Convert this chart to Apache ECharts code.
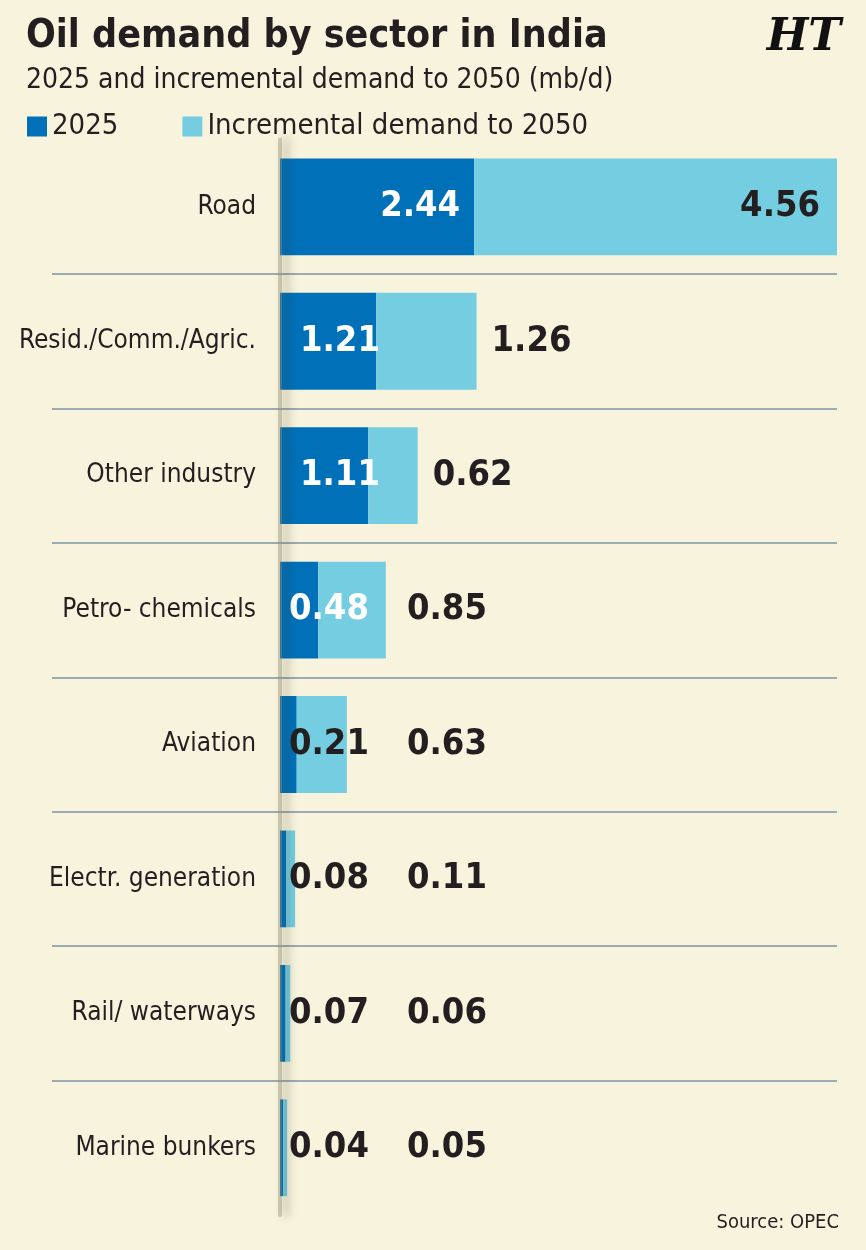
<!DOCTYPE html>
<html>
<head>
<meta charset="utf-8">
<script src="https://cdn.jsdelivr.net/npm/echarts@6/dist/echarts.min.js"></script>
<style>
  html, body { margin: 0; padding: 0; background: #f7f3dd; }
  #container { width: 866px; height: 1250px; }
</style>
</head>
<body>
<div id="container"></div>
<script>
// sectors, top to bottom
var sectors = ['Road', 'Resid./Comm./Agric.', 'Other industry', 'Petro- chemicals',
    'Aviation', 'Electr. generation', 'Rail/ waterways', 'Marine bunkers'];
// 2025 demand (mb/d)
var demand2025 = [2.44, 1.21, 1.11, 0.48, 0.21, 0.08, 0.07, 0.04];
// incremental demand to 2050 (mb/d)
var incremental = [4.56, 1.26, 0.62, 0.85, 0.63, 0.11, 0.06, 0.05];
var axisMax = 7;

var FONT = '"DejaVu Sans Condensed", "Liberation Sans Narrow", "Roboto", sans-serif';
var DARK = '#231f20';
var BLUE = '#0071b9';
var LIGHT = '#74cde0';
var LINE = '#9aabb3';

var dom = document.getElementById('container');
var myChart = echarts.init(dom);

var gridTop = 139.6, gridBottom = 35;

var option = {
    backgroundColor: '#f7f3dd',
    animation: false,
    title: [{
        text: 'Oil demand by sector in India',
        subtext: '2025 and incremental demand to 2050 (mb/d)',
        left: 21,
        top: 12,
        itemGap: 11,
        textStyle: { fontFamily: FONT, fontWeight: 'bold', fontSize: 39, color: DARK },
        subtextStyle: { fontFamily: FONT, fontSize: 28, color: DARK }
    }, {
        text: 'HT',
        right: 20,
        top: 12,
        textStyle: { fontFamily: '"DejaVu Serif", serif', fontWeight: 'bold', fontStyle: 'italic', fontSize: 44, color: '#111' }
    }, {
        text: 'Source: OPEC',
        right: 22,
        bottom: 12,
        textStyle: { fontFamily: FONT, fontWeight: 'normal', fontSize: 20, color: DARK }
    }],
    legend: {
        left: 22,
        top: 107,
        icon: 'rect',
        itemWidth: 20,
        itemHeight: 20,
        itemGap: 64,
        selectedMode: false,
        textStyle: { fontFamily: FONT, fontSize: 29, color: DARK },
        data: ['2025', 'Incremental demand to 2050']
    },
    grid: [
        // strip that only carries the separator lines under the labels
        { left: 52, width: 228, top: gridTop, bottom: gridBottom, outerBoundsMode: 'none' },
        { left: 280, right: 29, top: gridTop, bottom: gridBottom, outerBoundsMode: 'none' }
    ],
    xAxis: [
        { type: 'value', gridIndex: 0, min: 0, max: 1, show: false },
        { type: 'value', gridIndex: 1, min: 0, max: axisMax, show: false }
    ],
    yAxis: [{
        type: 'category',
        gridIndex: 0,
        inverse: true,
        data: sectors,
        axisLine: { show: false },
        axisTick: { show: false },
        axisLabel: { show: false },
        splitLine: { show: true, showMinLine: false, showMaxLine: false, lineStyle: { color: LINE, width: 2 } }
    }, {
        type: 'category',
        gridIndex: 1,
        inverse: true,
        z: 3,
        data: sectors,
        // page fold down the value axis, drawn over the bars
        axisLine: {
            show: true,
            lineStyle: {
                color: 'rgba(150,140,115,0.4)', width: 4,
                shadowColor: 'rgba(60,50,30,0.9)', shadowBlur: 10, shadowOffsetX: 6
            }
        },
        axisTick: { show: false },
        axisLabel: { margin: 24, fontFamily: FONT, fontSize: 26, color: DARK },
        splitLine: { show: true, showMinLine: false, showMaxLine: false, lineStyle: { color: LINE, width: 2 } }
    }],
    series: [{
        name: '2025',
        type: 'bar',
        stack: 'total',
        xAxisIndex: 1,
        yAxisIndex: 1,
        barCategoryGap: '28%',
        itemStyle: { color: BLUE },
        data: demand2025
    }, {
        name: 'Incremental demand to 2050',
        type: 'bar',
        stack: 'total',
        xAxisIndex: 1,
        yAxisIndex: 1,
        barCategoryGap: '28%',
        itemStyle: { color: LIGHT },
        data: incremental
    }]
};

myChart.setOption(option);

// place value labels using the axis scale
var labelFont = { fontFamily: FONT, fontWeight: 'bold', fontSize: 36 };
var zeroX = myChart.convertToPixel({ xAxisIndex: 1 }, 0);
var data2025 = [], dataInc = [];
for (var i = 0; i < sectors.length; i++) {
    var a = demand2025[i], b = incremental[i];
    var startInc = myChart.convertToPixel({ xAxisIndex: 1 }, a);
    var endInc = myChart.convertToPixel({ xAxisIndex: 1 }, a + b);
    var wide = (endInc - zeroX) > 500;

    data2025.push({
        value: a,
        label: Object.assign({
            show: true,
            position: wide ? 'insideRight' : 'insideLeft',
            distance: wide ? 14 : (a >= 1 ? 20 : 9),
            color: a >= 0.4 ? '#fff' : DARK,
            formatter: a.toFixed(2)
        }, labelFont)
    });

    var labelX = Math.max(endInc + 15, zeroX + 127);
    dataInc.push({
        value: b,
        label: Object.assign({
            show: true,
            position: wide ? 'insideRight' : 'insideLeft',
            distance: wide ? 17 : labelX - startInc,
            color: DARK,
            formatter: b.toFixed(2)
        }, labelFont)
    });
}

myChart.setOption({
    series: [{ data: data2025 }, { data: dataInc }]
});
</script>
</body>
</html>
